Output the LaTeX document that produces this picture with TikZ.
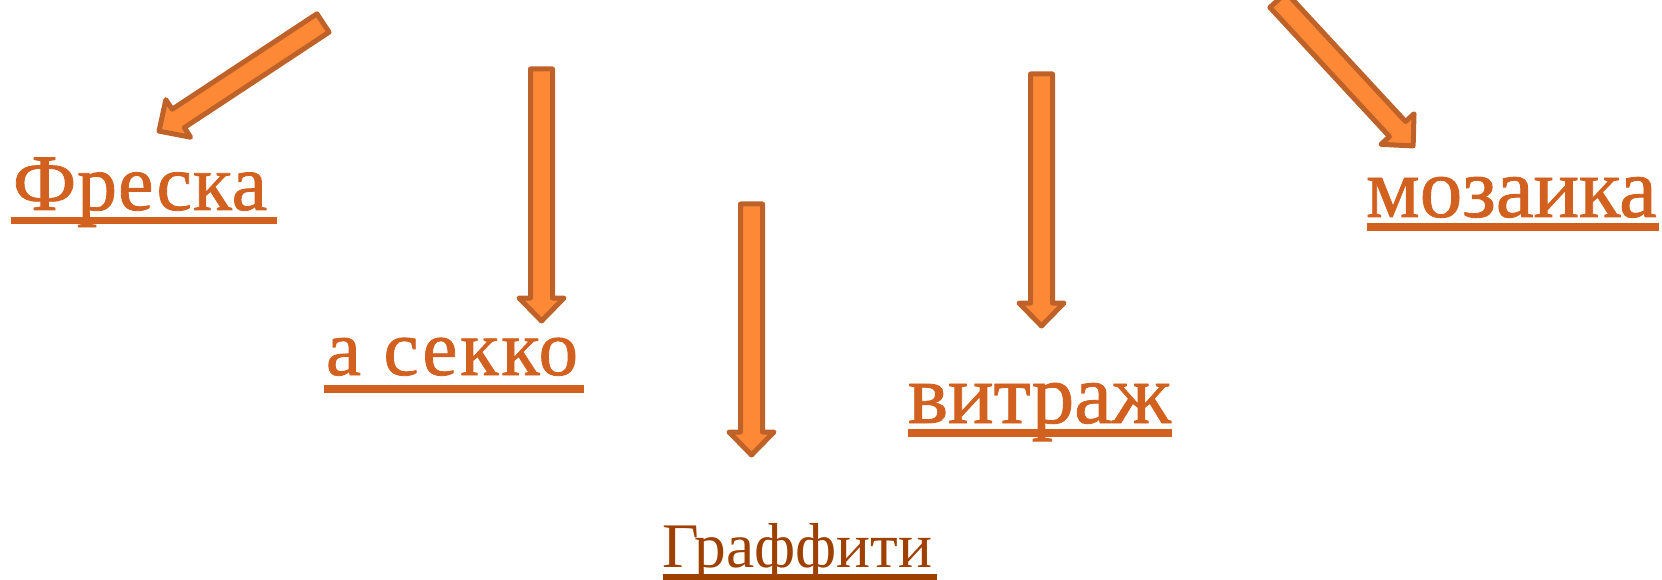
\documentclass[tikz,border=0pt]{standalone}
\usepackage{fontspec}
\setmainfont{Liberation Serif}
\newfontfamily\heavyA[LetterSpace=1.2,FakeBold=1]{Liberation Serif}
\newfontfamily\heavyB[LetterSpace=3.5,FakeBold=1]{Liberation Serif}
\newfontfamily\heavyC[FakeBold=1]{Liberation Serif}
\usetikzlibrary{calc}
\definecolor{txtor}{RGB}{210,96,30}
\definecolor{txtbr}{RGB}{158,64,0}
\definecolor{arrfill}{RGB}{253,137,55}
\definecolor{arrline}{RGB}{190,98,42}
\tikzset{
  arr/.style={draw=arrline, fill=arrfill, line width=5pt, line join=round},
  tarrow/.pic={\draw[arr] (0,-11) -- ({#1-23},-11) -- ({#1-23},-22.5) -- (#1,0)
     -- ({#1-23},22.5) -- ({#1-23},11) -- (0,11) -- cycle;},
  word/.style={anchor=base west, inner sep=0pt, outer sep=0pt, text=txtor},
  uline/.style={fill=txtor},
}
\begin{document}
\begin{tikzpicture}[x=1pt,y=-1pt]
\useasboundingbox (0,0) rectangle (1662,580);
% tails of arrows
\coordinate (t1) at (323,23);
\coordinate (t2) at (541.5,69);
\coordinate (t3) at (751.5,204);
\coordinate (t4) at (1041.5,74);
\coordinate (t5) at (1278,0);
\pic[rotate=213.4] at (t1) {tarrow=196.4};
\pic[rotate=-90] at (t2) {tarrow=252};
\pic[rotate=-90] at (t3) {tarrow=251};
\pic[rotate=-90] at (t4) {tarrow=252};
\pic[rotate=-47.2] at (t5) {tarrow=198.9};
% words
\node[word, font=\heavyA\fontsize{80}{80}\selectfont] (w1) at (13,210) {Фреска};
\node[word, font=\heavyB\fontsize{79}{79}\selectfont] (w2) at (326,375) {а секко};
\node[word, font=\fontsize{63.5}{63.5}\selectfont, text=txtbr] (w3) at (662,567) {Граффити};
\node[word, font=\heavyC\fontsize{85}{85}\selectfont] (w4) at (908,423) {витраж};
\node[word, font=\heavyC\fontsize{85}{85}\selectfont] (w5) at (1366,217) {мозаика};
% underlines
\fill[uline] (11,217) rectangle (277,224);
\fill[uline] (324,385) rectangle (584,393);
\fill[uline, fill=txtbr] (663,574) rectangle (937,581);
\fill[uline] (908,429) rectangle (1172,437);
\fill[uline] (1367,223) rectangle (1659,231);
\end{tikzpicture}
\end{document}
